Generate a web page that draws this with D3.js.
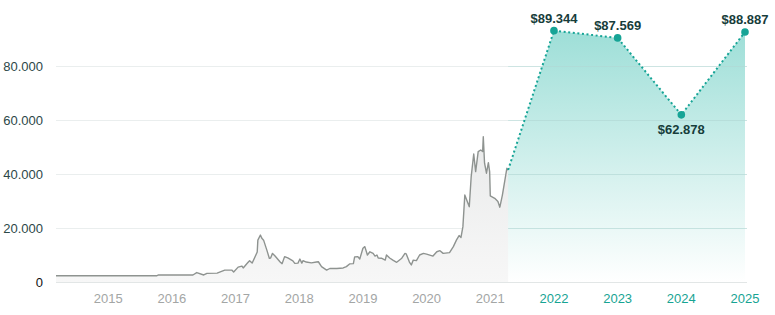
<!DOCTYPE html>
<html>
<head>
<meta charset="utf-8">
<script src="https://cdn.jsdelivr.net/npm/d3@7"></script>
<style>
  html, body { margin: 0; padding: 0; background: #fff; }
  svg { display: block; font-family: "Liberation Sans", Arial, sans-serif; }
</style>
</head>
<body>
<svg id="chart" width="775" height="315"></svg>
<script>
// historical price, [decimal year, value]
const historyDates = [
  2014.18, 2015.76, 2015.79, 2016.33, 2016.39, 2016.50, 2016.55, 2016.71, 2016.83, 2016.94,
  2016.97, 2017.04, 2017.10, 2017.12, 2017.19, 2017.22, 2017.26, 2017.27, 2017.34, 2017.35,
  2017.39, 2017.41, 2017.42, 2017.44, 2017.49, 2017.53, 2017.55, 2017.58, 2017.62, 2017.70,
  2017.73, 2017.77, 2017.82, 2017.90, 2017.93, 2017.98, 2018.01, 2018.04, 2018.06, 2018.11,
  2018.19, 2018.27, 2018.30, 2018.35, 2018.43, 2018.48, 2018.59, 2018.69, 2018.74, 2018.79,
  2018.85, 2018.87, 2018.92, 2018.95, 2019.00, 2019.03, 2019.07, 2019.11, 2019.16, 2019.19,
  2019.22, 2019.24, 2019.29, 2019.35, 2019.37, 2019.42, 2019.47, 2019.53, 2019.61, 2019.66,
  2019.68, 2019.73, 2019.76, 2019.79, 2019.84, 2019.89, 2019.95, 2020.00, 2020.10, 2020.16,
  2020.21, 2020.26, 2020.36, 2020.42, 2020.47, 2020.51, 2020.54, 2020.57, 2020.60, 2020.67,
  2020.70, 2020.74, 2020.77, 2020.81, 2020.85, 2020.88, 2020.89, 2020.91, 2020.94, 2020.97,
  2020.99, 2021.00, 2021.07, 2021.12, 2021.15, 2021.19, 2021.23, 2021.26, 2021.28
];
const historyValues = [
  2300, 2300, 2600, 2600, 3500, 2600, 3200, 3300, 4400, 4400,
  3700, 5500, 5900, 5200, 7100, 7900, 7000, 7500, 11100, 15500,
  17400, 16300, 16000, 15500, 11900, 8800, 8900, 10600, 9600, 7400,
  6800, 9400, 8900, 7800, 6900, 7000, 8500, 7000, 7900, 7400,
  7100, 7400, 7500, 5700, 4400, 5000, 5000, 5200, 5700, 6700,
  6800, 9300, 9400, 8500, 12500, 13100, 10000, 11200, 10600, 9600,
  10000, 8900, 8800, 8100, 10000, 8900, 8100, 7300, 8800, 10600,
  10400, 7400, 6300, 8100, 7900, 10000, 10600, 10300, 9600, 11200,
  11600, 10600, 10900, 13100, 15600, 17200, 16500, 20500, 32200, 27900,
  39000, 47400, 40900, 48300, 48900, 48300, 53800, 44000, 40300, 44200,
  40900, 31900, 31000, 29800, 27700, 32200, 37800, 42100, 41500
];

// forecast points
const forecastYears = [2022, 2023, 2024, 2025];
const forecastValues = [93100, 90400, 61900, 92600];
const forecastLabels = ["$89.344", "$87.569", "$62.878", "$88.887"];
const forecastLabelPos = ["above", "above", "below", "above"];

const yTicks = [0, 20000, 40000, 60000, 80000];
const xTicks = [2015, 2016, 2017, 2018, 2019, 2020, 2021, 2022, 2023, 2024, 2025];

const svg = d3.select("#chart");
const margin = { left: 56, right: 28, top: 0, bottom: 33 };
const width = 775, height = 315;

const x = d3.scaleLinear()
  .domain([2014.18, 2025])
  .range([margin.left, 745]);
const y = d3.scaleLinear()
  .domain([0, 20000])
  .range([282, 228]);

const locale = d3.formatLocale({ decimal: ",", thousands: ".", grouping: [3], currency: ["$", ""] });
const fmt = locale.format(",");

const history = historyDates.map((d, i) => ({ t: d, v: historyValues[i] }));
const lastHist = history[history.length - 1];
const forecast = [lastHist].concat(forecastYears.map((d, i) => ({ t: d, v: forecastValues[i], label: forecastLabels[i], pos: forecastLabelPos[i] })));

const defs = svg.append("defs");
const tealGrad = defs.append("linearGradient")
  .attr("id", "tealGrad")
  .attr("gradientUnits", "userSpaceOnUse")
  .attr("x1", 0).attr("x2", 0)
  .attr("y1", y(92000)).attr("y2", y(0));
tealGrad.append("stop").attr("offset", "0%").attr("stop-color", "#3fbfb1").attr("stop-opacity", 0.5);
tealGrad.append("stop").attr("offset", "60%").attr("stop-color", "#3fbfb1").attr("stop-opacity", 0.2);
tealGrad.append("stop").attr("offset", "100%").attr("stop-color", "#3fbfb1").attr("stop-opacity", 0);

const greyGrad = defs.append("linearGradient")
  .attr("id", "greyGrad")
  .attr("gradientUnits", "userSpaceOnUse")
  .attr("x1", 0).attr("x2", 0)
  .attr("y1", y(55000)).attr("y2", y(0));
greyGrad.append("stop").attr("offset", "0%").attr("stop-color", "#e9eaea");
greyGrad.append("stop").attr("offset", "100%").attr("stop-color", "#f7f7f7");

// gridlines
svg.append("g")
  .selectAll("line")
  .data(yTicks)
  .join("line")
  .attr("x1", margin.left)
  .attr("x2", 747)
  .attr("y1", d => Math.round(y(d)) + 0.5)
  .attr("y2", d => Math.round(y(d)) + 0.5)
  .attr("stroke", d => d === 0 ? "#e2e6e6" : "#eaeeee")
  .attr("stroke-width", 1.2);

// areas
const area = d3.area()
  .x(d => x(d.t))
  .y0(y(0))
  .y1(d => y(d.v));

svg.append("path")
  .datum(history)
  .attr("d", area)
  .attr("fill", "url(#greyGrad)");

svg.append("path")
  .datum(forecast)
  .attr("d", area)
  .attr("fill", "url(#tealGrad)");

// redraw gridlines faintly over the forecast area
svg.append("g")
  .selectAll("line")
  .data(yTicks.filter(d => d > 0))
  .join("line")
  .attr("x1", x(lastHist.t))
  .attr("x2", 747)
  .attr("y1", d => Math.round(y(d)) + 0.5)
  .attr("y2", d => Math.round(y(d)) + 0.5)
  .attr("stroke", "#b9dedb")
  .attr("stroke-opacity", 0.6)
  .attr("stroke-width", 1.2);

// lines
const line = d3.line()
  .x(d => x(d.t))
  .y(d => y(d.v));

svg.append("path")
  .datum(history)
  .attr("d", line)
  .attr("fill", "none")
  .attr("stroke", "#8e9390")
  .attr("stroke-width", 1.4)
  .attr("stroke-linejoin", "round");

svg.append("path")
  .datum(forecast)
  .attr("d", line)
  .attr("fill", "none")
  .attr("stroke", "#16a496")
  .attr("stroke-width", 2)
  .attr("stroke-dasharray", "2,2.6");

const fc = forecast.slice(1);
svg.append("g")
  .selectAll("circle")
  .data(fc)
  .join("circle")
  .attr("cx", d => x(d.t))
  .attr("cy", d => y(d.v))
  .attr("r", 3.8)
  .attr("fill", "#16a496");

svg.append("g")
  .selectAll("text")
  .data(fc)
  .join("text")
  .attr("x", d => x(d.t))
  .attr("y", d => d.pos === "above" ? y(d.v) - 8 : y(d.v) + 19)
  .attr("text-anchor", "middle")
  .attr("font-size", 13)
  .attr("font-weight", "bold")
  .attr("fill", "#173d3b")
  .text(d => d.label);

// y axis labels
svg.append("g")
  .selectAll("text")
  .data(yTicks)
  .join("text")
  .attr("x", 43)
  .attr("y", d => y(d))
  .attr("dy", "0.36em")
  .attr("text-anchor", "end")
  .attr("font-size", 13)
  .attr("fill", d => d === 0 ? "#111" : "#2c4848")
  .text(d => fmt(d));

// x axis labels
svg.append("g")
  .selectAll("text")
  .data(xTicks)
  .join("text")
  .attr("x", d => x(d))
  .attr("y", 298)
  .attr("dy", "0.36em")
  .attr("text-anchor", "middle")
  .attr("font-size", 13)
  .attr("fill", d => d >= 2022 ? "#17a493" : "#a3a6a5")
  .text(d => d);
</script>
</body>
</html>
